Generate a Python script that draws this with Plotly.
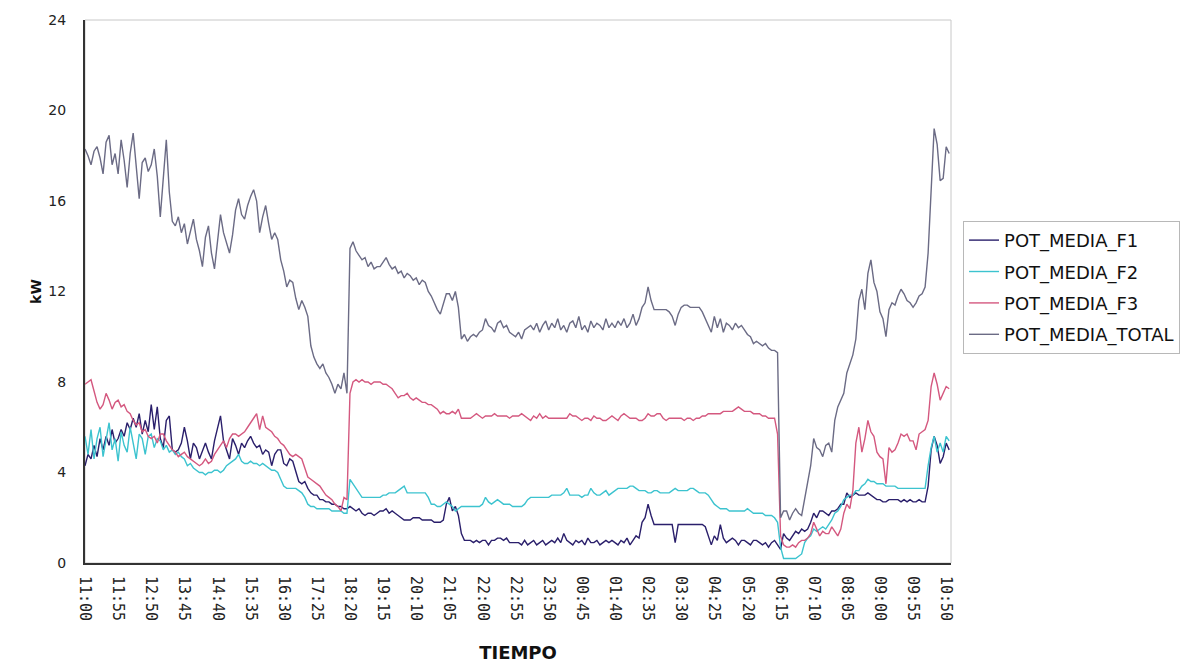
import plotly.graph_objects as go
import pandas as pd

# ---- categories: 5-minute timestamps from 11:00 to 10:55 (next day) ----
TIMES = [t.strftime("%H:%M") for t in pd.date_range("2020-01-01 11:00", periods=288, freq="5min")]
TICK_STEP = 11  # one labelled tick every 55 minutes

POT_MEDIA_F1 = [
    4.3, 4.8, 4.6, 5.2, 4.7, 5.5, 5.0, 5.6, 5.2, 5.9, 5.3,
    5.5, 5.9, 5.6, 6.2, 5.9, 6.4, 6.0, 6.6, 5.7, 6.3, 5.8,
    7.0, 5.9, 6.9, 5.5, 5.1, 6.3, 6.5, 5.0, 4.9, 5.0, 5.3,
    6.0, 5.4, 4.6, 5.3, 5.1, 4.6, 5.0, 5.3, 4.9, 4.6, 5.4,
    5.9, 6.5, 5.4, 5.0, 4.6, 5.5, 5.2, 4.8, 5.3, 5.1, 5.4,
    5.6, 5.3, 5.1, 5.2, 4.8, 5.0, 4.9, 4.3, 4.8, 5.0, 5.0,
    4.4, 4.3, 4.6, 4.5, 4.0, 3.6, 3.5, 3.6, 3.3, 3.1, 3.0,
    3.0, 2.8, 2.8, 2.7, 2.7, 2.6, 2.6, 2.5, 2.5, 2.4, 2.4,
    2.5, 2.4, 2.3, 2.4, 2.2, 2.1, 2.2, 2.2, 2.1, 2.2, 2.3,
    2.3, 2.4, 2.2, 2.3, 2.2, 2.1, 2.0, 1.9, 1.9, 1.9, 2.0,
    2.0, 2.0, 1.9, 1.9, 1.9, 1.9, 1.8, 1.8, 1.8, 1.9, 2.6,
    2.9, 2.3, 2.5, 2.1, 1.3, 1.0, 1.0, 1.0, 0.9, 1.0, 0.9,
    1.0, 1.0, 0.8, 1.0, 1.0, 1.1, 1.1, 1.0, 1.1, 0.9, 0.9,
    0.9, 0.9, 0.8, 1.0, 0.8, 0.9, 1.0, 0.8, 0.9, 1.0, 0.8,
    0.9, 1.0, 0.9, 1.1, 0.9, 1.3, 1.0, 0.9, 0.8, 1.0, 0.9,
    1.0, 0.8, 1.1, 0.9, 0.9, 1.0, 0.8, 0.9, 1.0, 0.9, 1.0,
    0.9, 0.8, 1.0, 0.9, 1.1, 0.8, 1.0, 1.2, 1.1, 1.8, 2.0,
    2.6, 2.1, 1.7, 1.7, 1.7, 1.7, 1.7, 1.7, 1.7, 0.9, 1.7,
    1.7, 1.7, 1.7, 1.7, 1.7, 1.7, 1.7, 1.7, 1.6, 1.2, 0.8,
    1.2, 1.0, 1.7, 1.1, 0.9, 1.0, 1.1, 1.0, 0.8, 1.0, 1.0,
    0.9, 0.8, 1.0, 1.0, 0.9, 0.8, 0.9, 0.7, 0.9, 1.0, 0.8,
    0.6, 1.3, 1.1, 1.0, 1.2, 1.4, 1.3, 1.5, 1.4, 1.5, 1.8,
    2.2, 2.0, 2.3, 2.3, 2.2, 2.1, 2.3, 2.3, 2.4, 2.6, 2.6,
    3.1, 2.9, 3.0, 3.1, 3.0, 3.0, 3.0, 3.1, 3.0, 2.9, 2.8,
    2.8, 2.7, 2.7, 2.8, 2.8, 2.8, 2.8, 2.7, 2.8, 2.7, 2.8,
    2.7, 2.7, 2.8, 2.7, 2.7, 3.4, 5.0, 5.6, 5.2, 4.4, 4.7,
    5.3, 5.0,
]

POT_MEDIA_F2 = [
    5.6, 4.8, 5.9, 4.6, 5.5, 6.0, 4.7, 5.4, 6.2, 5.0, 5.5,
    4.5, 5.8, 5.2, 4.9, 6.0, 5.3, 4.6, 5.7, 5.5, 4.8, 5.6,
    5.7, 5.1, 5.5, 5.4, 5.0, 5.2, 4.9, 5.0, 4.8, 4.9, 4.7,
    4.6, 4.3, 4.4, 4.2, 4.1, 4.0, 4.0, 3.9, 4.0, 4.0, 4.1,
    4.1, 4.0, 4.1, 4.3, 4.4, 4.5, 4.6, 4.8, 4.5, 4.4, 4.4,
    4.5, 4.4, 4.4, 4.3, 4.4, 4.3, 4.2, 4.1, 4.1, 4.0, 3.7,
    3.4, 3.3, 3.3, 3.3, 3.3, 3.2, 3.1, 2.9, 2.6, 2.5, 2.5,
    2.4, 2.4, 2.4, 2.4, 2.4, 2.3, 2.3, 2.3, 2.3, 2.2, 2.2,
    3.7, 3.5, 3.3, 3.1, 2.9, 2.9, 2.9, 2.9, 2.9, 2.9, 2.9,
    3.0, 3.0, 3.1, 3.1, 3.1, 3.2, 3.3, 3.4, 3.1, 3.1, 3.1,
    3.1, 3.1, 3.1, 3.1, 2.9, 2.6, 2.6, 2.5, 2.5, 2.6, 2.7,
    2.6, 2.5, 2.3, 2.4, 2.5, 2.5, 2.5, 2.5, 2.5, 2.5, 2.5,
    2.6, 2.9, 2.7, 2.6, 2.7, 2.8, 2.7, 2.6, 2.6, 2.6, 2.5,
    2.5, 2.5, 2.5, 2.6, 2.8, 2.9, 2.9, 2.9, 2.9, 2.9, 2.9,
    2.9, 3.0, 3.0, 3.0, 3.0, 3.1, 3.3, 3.0, 3.0, 3.0, 3.0,
    2.9, 3.0, 3.0, 3.3, 3.1, 3.0, 3.0, 3.1, 3.2, 3.0, 3.1,
    3.2, 3.3, 3.3, 3.3, 3.3, 3.4, 3.4, 3.3, 3.2, 3.2, 3.2,
    3.1, 3.1, 3.2, 3.2, 3.1, 3.1, 3.1, 3.1, 3.2, 3.3, 3.2,
    3.2, 3.2, 3.2, 3.3, 3.3, 3.2, 3.1, 3.1, 3.1, 3.0, 2.8,
    2.6, 2.5, 2.4, 2.4, 2.4, 2.3, 2.3, 2.3, 2.3, 2.3, 2.3,
    2.4, 2.3, 2.2, 2.2, 2.2, 2.2, 2.1, 2.1, 2.1, 2.0, 1.8,
    0.7, 0.2, 0.2, 0.2, 0.2, 0.2, 0.3, 0.4, 0.9, 1.1, 1.2,
    1.5, 1.4, 1.5, 1.6, 1.5, 1.7, 1.9, 2.2, 2.3, 2.5, 2.8,
    2.9, 3.0, 3.0, 3.2, 3.2, 3.4, 3.5, 3.7, 3.6, 3.6, 3.5,
    3.5, 3.5, 3.4, 3.4, 3.4, 3.4, 3.3, 3.3, 3.3, 3.3, 3.3,
    3.3, 3.3, 3.3, 3.3, 3.3, 4.3, 5.1, 5.6, 4.9, 5.3, 4.9,
    5.6, 5.4,
]

POT_MEDIA_F3 = [
    7.9, 8.0, 8.1, 7.6, 7.1, 6.8, 7.0, 7.5, 7.2, 6.8, 7.1,
    7.2, 6.9, 7.0, 6.7, 6.6, 6.3, 6.1, 6.2, 5.8, 5.9, 5.6,
    5.5, 5.6, 5.3, 5.7, 5.7, 5.4, 5.2, 5.0, 4.9, 4.7, 4.8,
    4.9, 4.7, 4.6, 4.5, 4.4, 4.3, 4.4, 4.6, 4.4, 4.5, 4.8,
    5.0, 5.2, 5.4, 5.1, 5.5, 5.7, 5.7, 5.6, 5.7, 5.8, 6.0,
    6.2, 6.4, 6.6, 5.9, 6.5, 6.0, 5.9, 5.8, 5.6, 5.5, 5.3,
    5.2, 5.0, 4.8, 4.7, 4.8, 4.7, 4.6, 4.2, 3.8, 3.7, 3.6,
    3.5, 3.4, 3.2, 3.0, 2.9, 2.8, 2.6, 2.5, 2.3, 2.9, 2.8,
    7.5, 8.0, 8.1, 8.0, 8.1, 8.0, 8.0, 7.9, 8.0, 8.0, 8.0,
    7.9, 7.9, 7.8, 7.7, 7.5, 7.3, 7.4, 7.4, 7.5, 7.3, 7.2,
    7.3, 7.2, 7.1, 7.1, 7.0, 7.0, 6.9, 6.8, 6.6, 6.7, 6.6,
    6.6, 6.7, 6.6, 6.8, 6.4, 6.4, 6.4, 6.4, 6.5, 6.6, 6.5,
    6.4, 6.5, 6.5, 6.5, 6.6, 6.5, 6.5, 6.5, 6.5, 6.4, 6.5,
    6.5, 6.5, 6.6, 6.5, 6.4, 6.3, 6.5, 6.4, 6.6, 6.4, 6.5,
    6.4, 6.4, 6.4, 6.4, 6.4, 6.4, 6.4, 6.6, 6.5, 6.5, 6.4,
    6.3, 6.4, 6.4, 6.3, 6.5, 6.4, 6.4, 6.3, 6.3, 6.4, 6.5,
    6.4, 6.3, 6.5, 6.6, 6.5, 6.4, 6.4, 6.4, 6.3, 6.3, 6.4,
    6.6, 6.5, 6.5, 6.6, 6.6, 6.4, 6.3, 6.4, 6.4, 6.4, 6.4,
    6.4, 6.3, 6.4, 6.4, 6.3, 6.4, 6.4, 6.5, 6.5, 6.6, 6.6,
    6.6, 6.6, 6.6, 6.7, 6.7, 6.7, 6.7, 6.8, 6.9, 6.8, 6.7,
    6.7, 6.7, 6.6, 6.6, 6.6, 6.5, 6.5, 6.4, 6.4, 6.4, 5.7,
    1.2, 0.8, 0.7, 0.7, 0.8, 0.7, 0.9, 1.0, 1.0, 1.1, 1.3,
    1.8, 1.5, 1.2, 1.4, 1.3, 1.3, 1.6, 1.4, 1.2, 1.5, 2.2,
    2.6, 2.4, 3.2, 5.3, 6.0, 4.9, 5.5, 6.3, 5.8, 5.6, 4.9,
    4.7, 4.6, 3.5, 5.1, 4.9, 5.0, 5.3, 5.7, 5.6, 5.7, 5.4,
    5.4, 5.0, 5.7, 5.8, 5.9, 6.3, 7.8, 8.4, 7.9, 7.2, 7.5,
    7.8, 7.7,
]

POT_MEDIA_TOTAL = [
    18.3, 18.0, 17.6, 18.2, 18.4, 17.9, 17.2, 18.6, 18.9, 17.6, 18.1,
    17.2, 18.7, 17.8, 16.6, 18.1, 19.0, 17.4, 16.1, 17.7, 17.9, 17.3,
    17.6, 18.3, 17.1, 15.3, 16.9, 18.7, 16.4, 15.1, 14.9, 15.3, 14.6,
    15.0, 14.1, 14.7, 15.2, 14.3, 13.8, 13.1, 14.4, 14.9, 13.7, 13.0,
    14.3, 15.4, 14.6, 14.2, 13.7, 14.5, 15.6, 16.1, 15.4, 15.2, 15.8,
    16.2, 16.5, 16.0, 14.6, 15.3, 15.8, 15.0, 14.3, 14.6, 14.3, 13.4,
    12.9, 12.2, 12.5, 12.4, 11.7, 11.2, 11.6, 11.3, 10.9, 9.6, 9.1,
    8.8, 8.6, 8.8, 8.4, 8.2, 7.9, 7.5, 7.9, 7.7, 8.4, 7.5,
    13.9, 14.2, 13.8, 13.6, 13.4, 13.5, 13.1, 13.3, 13.0, 13.1, 13.1,
    13.3, 13.5, 13.2, 13.0, 13.1, 12.8, 12.9, 12.6, 12.8, 12.7, 12.5,
    12.6, 12.3, 12.5, 12.4, 12.0, 11.8, 11.5, 11.2, 11.0, 11.4, 11.9,
    11.9, 11.6, 12.0, 11.3, 9.9, 10.1, 9.8, 10.0, 10.1, 10.0, 10.2,
    10.3, 10.8, 10.5, 10.4, 10.2, 10.6, 10.7, 10.4, 10.5, 10.2, 10.1,
    10.0, 10.2, 9.9, 10.3, 10.4, 10.5, 10.3, 10.6, 10.2, 10.5, 10.7,
    10.3, 10.6, 10.4, 10.8, 10.3, 10.5, 10.2, 10.6, 10.7, 10.4, 10.9,
    10.3, 10.5, 10.2, 10.7, 10.4, 10.6, 10.5, 10.3, 10.8, 10.4, 10.6,
    10.4, 10.7, 10.5, 10.8, 10.4, 10.6, 11.0, 10.5, 10.8, 11.3, 11.5,
    12.2, 11.6, 11.2, 11.2, 11.2, 11.2, 11.2, 11.1, 10.9, 10.5, 11.0,
    11.3, 11.4, 11.4, 11.3, 11.3, 11.3, 11.3, 11.1, 10.8, 10.5, 10.2,
    10.9, 10.4, 10.8, 10.2, 10.6, 10.5, 10.3, 10.6, 10.4, 10.5, 10.3,
    10.1, 10.0, 9.7, 9.8, 9.7, 9.6, 9.7, 9.5, 9.4, 9.4, 9.3,
    2.0, 2.3, 2.3, 1.9, 2.2, 2.4, 2.2, 2.1, 2.9, 3.5, 4.3,
    5.5, 5.1, 5.0, 4.7, 5.2, 5.3, 4.9, 6.3, 6.9, 7.2, 7.5,
    8.4, 8.8, 9.2, 9.9, 11.6, 12.1, 11.2, 12.8, 13.4, 12.4, 12.0,
    11.1, 10.8, 10.0, 11.2, 11.5, 11.4, 11.8, 12.1, 11.9, 11.6, 11.5,
    11.3, 11.5, 11.8, 11.9, 12.2, 13.7, 16.8, 19.2, 18.5, 16.9, 17.0,
    18.4, 18.1,
]

SERIES = [
    ("POT_MEDIA_F1", POT_MEDIA_F1, "#2a1f6b"),
    ("POT_MEDIA_F2", POT_MEDIA_F2, "#3cc3cf"),
    ("POT_MEDIA_F3", POT_MEDIA_F3, "#d4587f"),
    ("POT_MEDIA_TOTAL", POT_MEDIA_TOTAL, "#6b6b85"),
]

fig = go.Figure()
for name, vals, color in SERIES:
    assert len(vals) == len(TIMES), (name, len(vals))
    fig.add_trace(go.Scatter(
        x=TIMES, y=vals, name=name, mode="lines", legendgroup=name,
        line=dict(color=color, width=1.4),
    ))

FONT = "DejaVu Sans"

fig.update_layout(
    width=1183, height=655,
    margin=dict(l=77, r=240, t=12, b=100, autoexpand=False),
    paper_bgcolor="white", plot_bgcolor="white",
    font=dict(family=FONT, size=13, color="#222"),
    showlegend=True,
    legend=dict(
        x=1.0139, xanchor="left", y=0.63, yanchor="top",
        bordercolor="#b8b8b8", borderwidth=1, bgcolor="white",
        font=dict(family=FONT, size=18, color="#111"),
        traceorder="grouped", tracegroupgap=5,
        itemwidth=30,
    ),
    xaxis=dict(
        type="category",
        tickvals=TIMES[::TICK_STEP],
        tickangle=90,
        tickfont=dict(family="DejaVu Sans Mono", size=15, color="#222"),
        range=[0, len(TIMES) - 0.4],
        showgrid=False, zeroline=False, automargin=False,
        showline=True, linecolor="#333", linewidth=2,
        ticks="", ticklabelstandoff=8,
        title=dict(text="<b>TIEMPO</b>", font=dict(family=FONT, size=18, color="#111"), standoff=33),
    ),
    yaxis=dict(
        range=[0, 24], tickvals=[0, 4, 8, 12, 16, 20, 24],
        tickfont=dict(family=FONT, size=14, color="#222"),
        showgrid=False, zeroline=False, automargin=False,
        showline=True, linecolor="#333", linewidth=2,
        ticks="", ticklabelstandoff=14,
        title=dict(text="<b>kW</b>", font=dict(family=FONT, size=14, color="#111"), standoff=3),
    ),
    shapes=[dict(type="rect", xref="paper", yref="paper", x0=0, y0=0, x1=1, y1=1,
                 line=dict(color="#c8c8c8", width=1), layer="below")],
)

fig.write_html("out.html")
